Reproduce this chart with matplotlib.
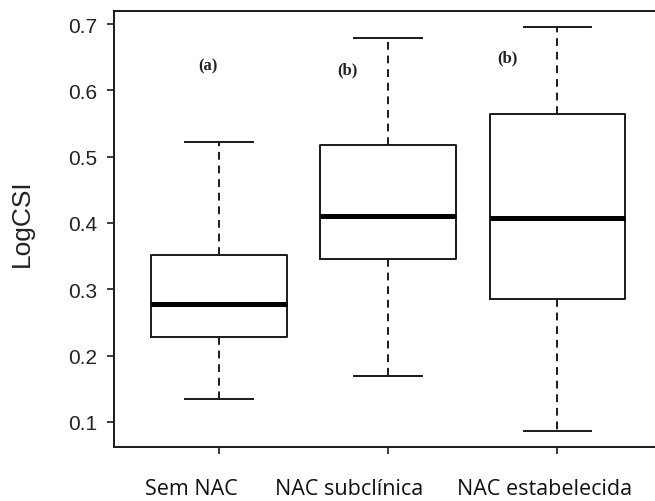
import matplotlib
matplotlib.use("Agg")
import matplotlib.pyplot as plt
from matplotlib.transforms import ScaledTranslation

# ==============================
# Daten (Boxplot-Kennwerte je Gruppe)
# ==============================
grupos = ["Sem NAC", "NAC subclínica", "NAC estabelecida"]
whisker_low = [0.134, 0.170, 0.087]
q1 = [0.228, 0.345, 0.286]
mediana = [0.278, 0.411, 0.408]
q3 = [0.351, 0.517, 0.565]
whisker_high = [0.522, 0.679, 0.696]
letras = ["(a)", "(b)", "(b)"]

# ==============================
# Layout
# ==============================
fig = plt.figure(figsize=(6.55, 5.02), dpi=100)
ax = fig.add_axes([0.174, 0.1076, 0.826, 0.869])

cor = "#1a1a1a"
stats = []
for g, lo, a, m, b, hi in zip(grupos, whisker_low, q1, mediana, q3, whisker_high):
    stats.append({"label": g, "whislo": lo, "q1": a, "med": m, "q3": b, "whishi": hi, "fliers": []})

ax.bxp(
    stats,
    positions=[1, 2, 3],
    widths=0.8,
    capwidths=0.4,
    showfliers=False,
    boxprops=dict(color=cor, linewidth=1.4),
    medianprops=dict(color="black", linewidth=3.6, solid_capstyle="butt"),
    whiskerprops=dict(color=cor, linewidth=1.4, linestyle=(0, (4, 3))),
    capprops=dict(color=cor, linewidth=1.4),
)

# Buchstaben der Signifikanzgruppen
pos_letras = [(0.935, 0.638), (1.762, 0.632), (2.705, 0.649)]
for txt, (x, y) in zip(letras, pos_letras):
    ax.text(x, y, txt, ha="center", va="center", fontsize=12,
            fontweight="bold", family="Liberation Serif", color="#222222")

ax.set_xlim(0.380, 3.576)
ax.set_ylim(0.0623, 0.720)
ax.set_yticks([0.1, 0.2, 0.3, 0.4, 0.5, 0.6, 0.7])
ax.set_yticklabels([f"{v:.1f}" for v in [0.1, 0.2, 0.3, 0.4, 0.5, 0.6, 0.7]],
                   family="Liberation Sans", fontsize=15, color="#222222")
ax.set_xticks([1, 2, 3])
ax.set_xticklabels(grupos, family="Open Sans", fontsize=15.5, color="#111111")

ax.tick_params(axis="y", direction="out", length=5, width=1.2, pad=7, color=cor)
ax.tick_params(axis="x", direction="out", length=5, width=1.2, pad=17, color=cor)

# Beschriftungen leicht seitlich versetzt
versatz_px = [-28, -39.5, -12.7]
for lab, dx in zip(ax.get_xticklabels(), versatz_px):
    lab.set_transform(lab.get_transform() + ScaledTranslation(dx / 100, 0, fig.dpi_scale_trans))

ax.spines["right"].set_visible(False)
for s in ["left", "top", "bottom"]:
    ax.spines[s].set_linewidth(1.4)
    ax.spines[s].set_color(cor)

ax.set_ylabel("LogCSI", family="Liberation Sans", fontsize=19, color="#222222", va="center")
ax.yaxis.set_label_coords(-0.171, 0.5146)

fig.savefig("out.png", dpi=100)
